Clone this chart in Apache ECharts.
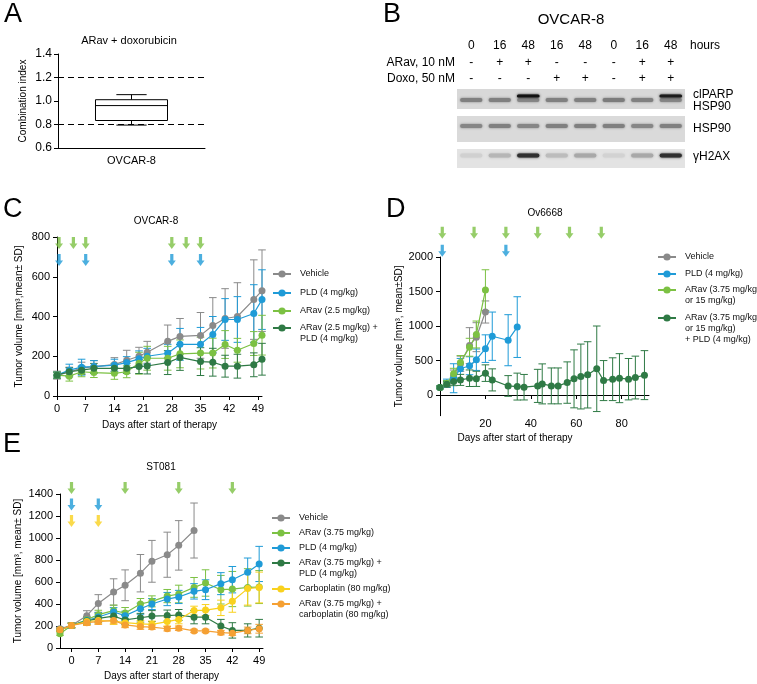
<!DOCTYPE html>
<html><head><meta charset="utf-8">
<script src="https://cdn.jsdelivr.net/npm/echarts@6/dist/echarts.min.js"></script>
<style>html,body{margin:0;padding:0;background:#fff}#c{width:757px;height:684px}</style>
</head><body><div id="c"></div>
<script>
const FONT = '"Liberation Sans", Arial, Helvetica, sans-serif';

// ---------- Panel A : combination index ----------
const aCategories = ['OVCAR-8'];
const aBox = [0.795, 0.834, 0.961, 1.011, 1.054]; // min, q1, median, q3, max
const aThresholds = [1.2, 0.8];

// ---------- Panel B : western blot ----------
const bLaneIds = ['L1','L2','L3','L4','L5','L6','L7','L8'];
const bHours = ['0','16','48','16','48','0','16','48'];
const bARav = ['-','+','+','-','-','-','+','+'];
const bDoxo = ['-','-','-','+','+','-','+','+'];
const bHSP90top = [0.45,0.45,0.42,0.45,0.45,0.47,0.45,0.42];
const bClPARP = [0,0,1,0,0,0,0,0.95];
const bHSP90 = [0.42,0.45,0.42,0.45,0.45,0.45,0.42,0.45];
const bH2AX = [0.05,0.18,0.85,0.15,0.25,0.04,0.25,0.85];
const bBandLabels = ['clPARP\nHSP90', 'HSP90', 'γH2AX'];

// ---------- Panel C : OVCAR-8 ----------
const cDays = [0,3,6,9,14,17,20,22,27,30,35,38,41,44,48,50];
const cVehicle = [105,120,140,148,158,180,200,220,275,300,305,355,390,400,485,530];
const cVehicleSD = [20,25,30,30,35,50,45,55,82,90,115,140,150,170,200,205];
const cPLD = [105,130,145,148,155,168,187,200,215,260,260,310,385,385,415,485];
const cPLDSD = [15,30,40,30,30,30,40,40,45,80,85,90,105,115,145,150];
const cARav = [105,100,122,118,114,122,165,190,190,212,216,216,259,230,264,306];
const cARavSD = [15,25,25,25,30,30,55,60,60,70,80,75,70,60,60,100];
const cCombo = [105,122,130,139,139,139,148,151,168,194,173,170,150,150,157,185];
const cComboSD = [15,20,20,25,25,25,35,40,60,65,70,70,55,60,60,80];
const cArrowARav = [0.5,4,7,28,31.5,35];
const cArrowPLD = [0.5,7,28,35];
const cXTicks = [0,7,14,21,28,35,42,49];

// ---------- Panel D : Ov6668 ----------
const dDaysShort = [0,3,6,9,13,16,20];
const dVehicle = [110,156,282,453,716,838,1203];
const dVehicleSD = [20,40,80,110,260,210,160];
const dARav = [110,170,307,472,692,877,1520];
const dARavSD = [20,40,80,100,130,195,295];
const dPLDDays = [0,3,6,9,13,16,20,23,30,34];
const dPLD = [110,170,243,380,424,511,672,852,794,984];
const dPLDSD = [20,60,210,150,130,155,200,350,370,440];
const dComboDays = [0,3,6,9,13,16,20,23,30,34,37,43,45,49,52,56,59,62,65,69,72,76,79,83,86,90];
const dCombo = [110,156,195,219,243,234,317,219,131,122,113,132,161,132,132,180,234,268,292,380,209,229,244,229,253,288];
const dComboSD = [20,40,60,80,120,110,120,160,150,195,185,240,290,260,260,300,420,470,480,620,290,310,355,300,310,355];
const dArrowARav = [1,15,29,43,57,71];
const dArrowPLD = [1,29];
const dXTicks = [20,40,60,80];
const dYTicks = [0,500,1000,1500,2000];

// ---------- Panel E : ST081 ----------
const eVehDays = [-3,0,4,7,11,14,18,21,25,28,32];
const eVehicle = [175,205,294,405,509,570,680,788,848,933,1068];
const eVehicleSD = [15,25,45,80,120,140,170,190,205,225,250];
const eDays = [-3,0,4,7,11,14,18,21,25,28,32,35,39,42,46,49];
const eARav = [130,205,257,303,340,318,400,424,472,491,551,591,530,536,551,554];
const eARavSD = [15,20,30,40,50,50,50,50,60,80,90,120,130,160,170,150];
const ePLD = [165,205,250,282,327,294,357,400,445,464,515,530,585,621,688,764];
const ePLDSD = [15,20,30,40,40,40,50,50,60,60,70,90,100,120,130,160];
const eCombo = [165,205,245,270,290,255,275,290,295,300,280,280,200,160,160,180];
const eComboSD = [15,20,30,40,40,40,40,50,50,50,60,60,60,70,60,80];
const eCarbo = [165,205,240,250,245,230,220,215,240,260,340,345,365,425,540,550];
const eCarboSD = [15,20,30,30,30,30,30,30,40,40,40,50,70,100,150,140];
const eARavCarbo = [165,205,230,240,250,210,195,190,175,180,155,155,140,135,160,175];
const eARavCarboSD = [15,20,25,25,30,25,25,20,20,20,15,15,20,20,30,40];
const eArrowARav = [0,14,28,42];
const eArrowPLD = [0,7];
const eArrowCarbo = [0,7];
const eXTicks = [0,7,14,21,28,35,42,49];

// ---------- colours ----------
const GREY = '#8a8a8a', BLUE = '#1f9bd7', LGREEN = '#7cc143', DGREEN = '#2f7a45', YELLOW = '#f9d11e', ORANGE = '#f5a033';

// ---------- helpers ----------
const axLine = {show:true, onZero:false, lineStyle:{color:'#000', width:1}};
const axTick = {show:true, inside:false, length:4, lineStyle:{color:'#000', width:1}};
const plain = v => String(v);
const lbl = (o) => Object.assign({color:'#000', fontSize:11, fontFamily:FONT}, o||{});

function errItem(params, api){
  const x = api.value(0), m = api.value(1), s = api.value(2);
  const t = api.coord([x, m + s]), b = api.coord([x, m - s]);
  const color = api.visual('color');
  const cap = 3.8;
  const st = {stroke: color, lineWidth: 1};
  return {type:'group', children:[
    {type:'line', shape:{x1:t[0], y1:t[1], x2:b[0], y2:b[1]}, style:st},
    {type:'line', shape:{x1:t[0]-cap, y1:t[1], x2:t[0]+cap, y2:t[1]}, style:st},
    {type:'line', shape:{x1:b[0]-cap, y1:b[1], x2:b[0]+cap, y2:b[1]}, style:st}
  ]};
}
function lineS(name, color, days, vals, xi, yi){
  return {type:'line', name, xAxisIndex:xi, yAxisIndex:yi, data:days.map((d,i)=>[d, vals[i]]),
    symbol:'circle', symbolSize:7, lineStyle:{width:1.2, color}, itemStyle:{color},
    z:4, clip:false, animation:false};
}
function errS(name, color, days, vals, sds, xi, yi){
  return {type:'custom', name:name+' (SD)', xAxisIndex:xi, yAxisIndex:yi,
    data:days.map((d,i)=>[d, vals[i], sds[i]]), encode:{x:0, y:1},
    itemStyle:{color}, renderItem:errItem, z:3, silent:true, animation:false};
}
const ARROW = 'path://M3,0 L7,0 L7,7 L10,7 L5,13 L0,7 L3,7 Z';
function arrowS(color, days, level, xi, yi){
  return {type:'scatter', xAxisIndex:xi, yAxisIndex:yi, data:days.map(d=>[d, level]),
    symbol:ARROW, symbolSize:[8,12], itemStyle:{color}, clip:false, silent:true, z:5, animation:false};
}
function legendRow(left, cy, name, text, n){
  const lh = 11;
  const H = (2*n-1)*lh;
  return {left, top: cy - H/2, orient:'vertical', padding:0, itemWidth:18, itemHeight:9, itemGap:0,
    selectedMode:false, data:[name],
    formatter: () => '\n'.repeat(n-1) + text,
    textStyle:{fontSize:9, lineHeight:lh, color:'#111', fontFamily:FONT, padding:[0,0,0,4]}};
}
function band(cx, cy, w, h, inten){
  const g = Math.round(218 - 200*inten);
  const col = 'rgb('+g+','+g+','+g+')';
  return {type:'rect', shape:{x:cx-w/2, y:cy-h/2, width:w, height:h, r:h/2},
    style:{fill:col, shadowBlur:2.5, shadowColor:col}};
}
function stripItem(offset, h, two){
  return function(params, api){
    const lane = api.value(0);
    const c = api.coord([lane, 0]);
    const w = api.size([1, 0])[0]*0.78;
    const ch = [band(c[0], c[1]+offset, w, h, api.value(2))];
    if (two && api.value(3) > 0) ch.push(band(c[0], c[1]+offset-4, w*1.02, 3, api.value(3)));
    return {type:'group', children:ch};
  };
}
function boxItem(params, api){
  const x = api.value(0);
  const mn = api.value(1), q1 = api.value(2), md = api.value(3), q3 = api.value(4), mx = api.value(5);
  const bw = api.size([1,0])[0]*0.49, cw = bw*0.42;
  const cx = api.coord([x, md])[0];
  const y = v => api.coord([x, v])[1];
  const st = {stroke:'#000', lineWidth:1, fill:null};
  return {type:'group', children:[
    {type:'rect', shape:{x:cx-bw/2, y:y(q3), width:bw, height:y(q1)-y(q3)}, style:{stroke:'#000', lineWidth:1, fill:'#fff'}},
    {type:'line', shape:{x1:cx-bw/2, y1:y(md), x2:cx+bw/2, y2:y(md)}, style:st},
    {type:'line', shape:{x1:cx, y1:y(q3), x2:cx, y2:y(mx)}, style:st},
    {type:'line', shape:{x1:cx, y1:y(q1), x2:cx, y2:y(mn)}, style:st},
    {type:'line', shape:{x1:cx-cw/2, y1:y(mx), x2:cx+cw/2, y2:y(mx)}, style:st},
    {type:'line', shape:{x1:cx-cw/2, y1:y(mn), x2:cx+cw/2, y2:y(mn)}, style:st}
  ]};
}
function txt(x, y, text, size, align, extra){
  return {type:'text', x, y, silent:true, style:Object.assign({text, font:(size)+'px '+FONT, fill:'#000',
    textAlign:align||'left', textVerticalAlign:'middle'}, extra||{})};
}

const chart = echarts.init(document.getElementById('c'), null, {renderer:'canvas', width:757, height:684});

const option = {
  animation:false,
  backgroundColor:'#fff',
  textStyle:{fontFamily:FONT},
  grid:[
    {left:58, top:54, width:147, height:94},                                        // 0 A
    {left:457, top:89, width:228, height:20, show:true, backgroundColor:'#d8d8d8', borderWidth:0}, // 1 B strip1
    {left:457, top:116, width:228, height:26, show:true, backgroundColor:'#dadada', borderWidth:0}, // 2 B strip2
    {left:457, top:149, width:228, height:19, show:true, backgroundColor:'#e3e3e3', borderWidth:0}, // 3 B strip3
    {left:57, top:237, width:205, height:159},                                       // 4 C
    {left:440, top:257, width:209, height:158.7},                                    // 5 D
    {left:60, top:494, width:203, height:154}                                        // 6 E
  ],
  xAxis:[
    {gridIndex:0, type:'category', data:aCategories, axisLine:axLine, axisTick:{show:false},
      axisLabel:lbl({margin:7})},
    {gridIndex:1, type:'category', data:bLaneIds, show:false},
    {gridIndex:1, type:'category', data:bLaneIds, position:'top', offset:37, axisLine:{show:false}, axisTick:{show:false},
      axisLabel:lbl({fontSize:12, margin:0, interval:0, formatter:(v,i)=>bHours[i]})},
    {gridIndex:1, type:'category', data:bLaneIds, position:'top', offset:20, axisLine:{show:false}, axisTick:{show:false},
      axisLabel:lbl({fontSize:12, margin:0, interval:0, formatter:(v,i)=>bARav[i]})},
    {gridIndex:1, type:'category', data:bLaneIds, position:'top', offset:4, axisLine:{show:false}, axisTick:{show:false},
      axisLabel:lbl({fontSize:12, margin:0, interval:0, formatter:(v,i)=>bDoxo[i]})},
    {gridIndex:2, type:'category', data:bLaneIds, show:false},
    {gridIndex:3, type:'category', data:bLaneIds, show:false},
    {gridIndex:4, type:'value', min:0, max:50, axisLine:axLine,
      axisTick:Object.assign({customValues:cXTicks}, axTick), axisLabel:lbl({customValues:cXTicks, margin:7, formatter:plain}),
      splitLine:{show:false}, name:'Days after start of therapy', nameLocation:'middle', nameGap:24,
      nameTextStyle:{fontSize:10, color:'#000', fontFamily:FONT}},
    {gridIndex:5, type:'value', min:0, max:92, position:'bottom',
      axisLine:{show:true, onZero:true, lineStyle:{color:'#000', width:1}},
      axisTick:Object.assign({customValues:dXTicks}, axTick), axisLabel:{show:false}, splitLine:{show:false}},
    {gridIndex:5, type:'value', min:0, max:92, position:'bottom',
      axisLine:{show:false, onZero:false}, axisTick:{show:false},
      axisLabel:lbl({customValues:dXTicks, margin:3, formatter:plain}), splitLine:{show:false}},
    {gridIndex:6, type:'value', min:-3, max:50, axisLine:axLine,
      axisTick:Object.assign({customValues:eXTicks}, axTick), axisLabel:lbl({customValues:eXTicks, margin:7, formatter:plain}),
      splitLine:{show:false}, name:'Days after start of therapy', nameLocation:'middle', nameGap:23,
      nameTextStyle:{fontSize:10, color:'#000', fontFamily:FONT}}
  ],
  yAxis:[
    {gridIndex:0, type:'value', min:0.6, max:1.4, interval:0.2, axisLine:axLine, axisTick:axTick,
      axisLabel:lbl({fontSize:12, margin:6, formatter:v=>v.toFixed(1)}), splitLine:{show:false},
      name:'Combination index', nameLocation:'middle', nameGap:30, nameTextStyle:{fontSize:10, color:'#000', fontFamily:FONT}},
    {gridIndex:1, type:'category', position:'right', data:[bBandLabels[0]], show:false},
    {gridIndex:2, type:'category', position:'right', data:[bBandLabels[1]], show:false},
    {gridIndex:3, type:'category', position:'right', data:[bBandLabels[2]], show:false},
    {gridIndex:4, type:'value', min:0, max:800, interval:200, axisLine:axLine, axisTick:axTick,
      axisLabel:lbl({margin:7, formatter:plain}), splitLine:{show:false},
      name:'Tumor volume [mm³,mean± SD]', nameLocation:'middle', nameGap:33,
      nameTextStyle:{fontSize:10, color:'#000', fontFamily:FONT}},
    {gridIndex:5, type:'value', min:-300, max:2000, axisLine:axLine,
      axisTick:Object.assign({customValues:dYTicks}, axTick), axisLabel:lbl({customValues:dYTicks, margin:7, formatter:plain}),
      splitLine:{show:false},
      name:'Tumor volume [mm³, mean±SD]', nameLocation:'middle', nameGap:31,
      nameTextStyle:{fontSize:10, color:'#000', fontFamily:FONT}},
    {gridIndex:6, type:'value', min:0, max:1400, interval:200, axisLine:axLine, axisTick:axTick,
      axisLabel:lbl({margin:7, formatter:plain}), splitLine:{show:false},
      name:'Tumor volume [mm³, mean± SD]', nameLocation:'middle', nameGap:37,
      nameTextStyle:{fontSize:10, color:'#000', fontFamily:FONT}}
  ],
  legend:[
    legendRow(272, 274, 'Vehicle', 'Vehicle', 1),
    legendRow(272, 293, 'PLD (4 mg/kg)', 'PLD (4 mg/kg)', 1),
    legendRow(272, 311, 'ARav (2.5 mg/kg)', 'ARav (2.5 mg/kg)', 1),
    legendRow(272, 328, 'ARav (2.5 mg/kg) + PLD (4 mg/kg)', 'ARav (2.5 mg/kg) +\nPLD (4 mg/kg)', 2),

    legendRow(657, 257, 'Vehicle', 'Vehicle', 1),
    legendRow(657, 274, 'PLD (4 mg/kg)', 'PLD (4 mg/kg)', 1),
    legendRow(657, 290, 'ARav (3.75 mg/kg or 15 mg/kg)', 'ARav (3.75 mg/kg\nor 15 mg/kg)', 2),
    legendRow(657, 318, 'ARav (3.75 mg/kg or 15 mg/kg) + PLD (4 mg/kg)', 'ARav (3.75 mg/kg\nor 15 mg/kg)\n+ PLD (4 mg/kg)', 3),

    legendRow(271, 518, 'Vehicle', 'Vehicle', 1),
    legendRow(271, 533, 'ARav (3.75 mg/kg)', 'ARav (3.75 mg/kg)', 1),
    legendRow(271, 548, 'PLD (4 mg/kg)', 'PLD (4 mg/kg)', 1),
    legendRow(271, 563, 'ARav (3.75 mg/kg) + PLD (4 mg/kg)', 'ARav (3.75 mg/kg) +\nPLD (4 mg/kg)', 2),
    legendRow(271, 589, 'Carboplatin (80 mg/kg)', 'Carboplatin (80 mg/kg)', 1),
    legendRow(271, 604, 'ARav (3.75 mg/kg) + carboplatin (80 mg/kg)', 'ARav (3.75 mg/kg) +\ncarboplatin (80 mg/kg)', 2)
  ],
  series:[
    // A
    {type:'custom', xAxisIndex:0, yAxisIndex:0, data:[[0].concat(aBox)], encode:{x:0, y:[1,2,3,4,5]},
      renderItem:boxItem, silent:true,
      markLine:{silent:true, symbol:'none', label:{show:false},
        lineStyle:{color:'#000', width:1, type:[6,4]}, data:aThresholds.map(v=>({yAxis:v}))}},
    // B
    {type:'custom', xAxisIndex:1, yAxisIndex:1, data:bHSP90top.map((v,i)=>[i, 0, v, bClPARP[i]]),
      renderItem:stripItem(1, 4, true), silent:true},
    {type:'custom', xAxisIndex:5, yAxisIndex:2, data:bHSP90.map((v,i)=>[i, 0, v]),
      renderItem:stripItem(-3, 4, false), silent:true},
    {type:'custom', xAxisIndex:6, yAxisIndex:3, data:bH2AX.map((v,i)=>[i, 0, v]),
      renderItem:stripItem(-3, 4, false), silent:true},
    // C
    errS('Vehicle', GREY, cDays, cVehicle, cVehicleSD, 7, 4),
    errS('PLD (4 mg/kg)', BLUE, cDays, cPLD, cPLDSD, 7, 4),
    errS('ARav (2.5 mg/kg)', LGREEN, cDays, cARav, cARavSD, 7, 4),
    errS('ARav (2.5 mg/kg) + PLD (4 mg/kg)', DGREEN, cDays, cCombo, cComboSD, 7, 4),
    lineS('Vehicle', GREY, cDays, cVehicle, 7, 4),
    lineS('PLD (4 mg/kg)', BLUE, cDays, cPLD, 7, 4),
    lineS('ARav (2.5 mg/kg)', LGREEN, cDays, cARav, 7, 4),
    lineS('ARav (2.5 mg/kg) + PLD (4 mg/kg)', DGREEN, cDays, cCombo, 7, 4),
    arrowS(LGREEN, cArrowARav, 770, 7, 4),
    arrowS(BLUE, cArrowPLD, 684, 7, 4),
    // D
    errS('D Vehicle', GREY, dDaysShort, dVehicle, dVehicleSD, 8, 5),
    errS('D PLD', BLUE, dPLDDays, dPLD, dPLDSD, 8, 5),
    errS('D ARav', LGREEN, dDaysShort, dARav, dARavSD, 8, 5),
    errS('D combo', DGREEN, dComboDays, dCombo, dComboSD, 8, 5),
    lineS('Vehicle', GREY, dDaysShort, dVehicle, 8, 5),
    lineS('PLD (4 mg/kg)', BLUE, dPLDDays, dPLD, 8, 5),
    lineS('ARav (3.75 mg/kg or 15 mg/kg)', LGREEN, dDaysShort, dARav, 8, 5),
    lineS('ARav (3.75 mg/kg or 15 mg/kg) + PLD (4 mg/kg)', DGREEN, dComboDays, dCombo, 8, 5),
    arrowS(LGREEN, dArrowARav, 2350, 8, 5),
    arrowS(BLUE, dArrowPLD, 2090, 8, 5),
    // E
    errS('E Vehicle', GREY, eVehDays, eVehicle, eVehicleSD, 10, 6),
    errS('E ARav', LGREEN, eDays, eARav, eARavSD, 10, 6),
    errS('E PLD', BLUE, eDays, ePLD, ePLDSD, 10, 6),
    errS('E combo', DGREEN, eDays, eCombo, eComboSD, 10, 6),
    errS('E carbo', YELLOW, eDays, eCarbo, eCarboSD, 10, 6),
    errS('E arav carbo', ORANGE, eDays, eARavCarbo, eARavCarboSD, 10, 6),
    lineS('Vehicle', GREY, eVehDays, eVehicle, 10, 6),
    lineS('ARav (3.75 mg/kg)', LGREEN, eDays, eARav, 10, 6),
    lineS('PLD (4 mg/kg)', BLUE, eDays, ePLD, 10, 6),
    lineS('ARav (3.75 mg/kg) + PLD (4 mg/kg)', DGREEN, eDays, eCombo, 10, 6),
    lineS('Carboplatin (80 mg/kg)', YELLOW, eDays, eCarbo, 10, 6),
    lineS('ARav (3.75 mg/kg) + carboplatin (80 mg/kg)', ORANGE, eDays, eARavCarbo, 10, 6),
    arrowS(LGREEN, eArrowARav, 1455, 10, 6),
    arrowS(BLUE, eArrowPLD, 1305, 10, 6),
    arrowS(YELLOW, eArrowCarbo, 1155, 10, 6)
  ],
  graphic:[
    txt(4, 15, 'A', 27),
    txt(383, 15, 'B', 27),
    txt(3, 210, 'C', 27),
    txt(386, 210, 'D', 27),
    txt(3, 445, 'E', 27),
    txt(129, 41, 'ARav + doxorubicin', 11, 'center'),
    txt(571, 20, 'OVCAR-8', 15, 'center'),
    txt(455, 63, 'ARav, 10 nM', 12, 'right'),
    txt(455, 79, 'Doxo, 50 nM', 12, 'right'),
    txt(690, 46, 'hours', 12, 'left'),
    txt(693, 101, bBandLabels[0], 12, 'left', {lineHeight:12}),
    txt(693, 129, bBandLabels[1], 12, 'left'),
    txt(693, 157, bBandLabels[2], 12, 'left'),
    txt(156, 221, 'OVCAR-8', 10, 'center'),
    txt(545, 213, 'Ov6668', 10, 'center'),
    txt(161, 467, 'ST081', 10, 'center'),
    txt(515, 438, 'Days after start of therapy', 10, 'center')
  ]
};
chart.setOption(option);
</script></body></html>
